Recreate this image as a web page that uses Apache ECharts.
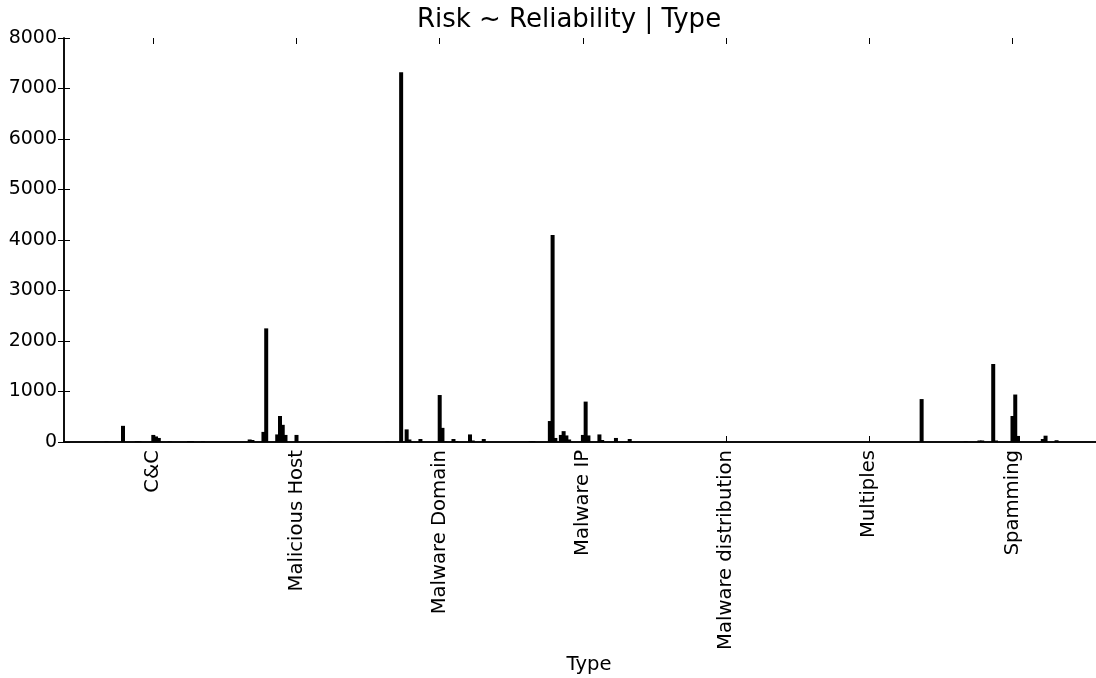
<!DOCTYPE html>
<html>
<head>
<meta charset="utf-8">
<title>Risk ~ Reliability | Type</title>
<script src="https://cdn.jsdelivr.net/npm/echarts@6/dist/echarts.min.js"></script>
<style>
  html, body { margin: 0; padding: 0; background: #fff; }
  #chart { width: 1096px; height: 678px; }
</style>
</head>
<body>
<div id="chart"></div>
<script>
// Threat types on the x axis
const types = ['C&C', 'Malicious Host', 'Malware Domain', 'Malware IP',
               'Malware distribution', 'Multiples', 'Spamming'];

// Y axis ticks
const yTicks = [0, 1000, 2000, 3000, 4000, 5000, 6000, 7000, 8000];

// Counts for each Risk/Reliability combination (39 combinations), one list per type
const ccCounts        = [0, 0, 8, 0, 0, 0, 0, 0, 320, 0, 0, 0, 0, 15, 15, 0, 0, 0, 0, 140, 110, 80, 0, 0, 0, 10, 0, 0, 0, 0, 0, 0, 20, 20, 0, 0, 0, 10, 0];
const hostCounts      = [0, 0, 50, 40, 0, 0, 0, 200, 2250, 0, 0, 0, 150, 515, 340, 140, 0, 0, 0, 140, 0, 0, 0, 0, 0, 0, 0, 0, 0, 0, 0, 5, 0, 0, 0, 0, 0, 0, 0];
const domainCounts    = [10, 0, 0, 0, 0, 7320, 0, 250, 50, 0, 0, 0, 60, 0, 0, 0, 0, 0, 0, 930, 280, 10, 0, 0, 60, 20, 0, 0, 0, 0, 150, 30, 0, 0, 0, 60, 0, 0, 0];
const ipCounts        = [15, 15, 0, 0, 0, 0, 0, 415, 4100, 80, 0, 140, 215, 130, 50, 0, 0, 0, 0, 140, 800, 130, 0, 0, 0, 150, 40, 0, 0, 0, 0, 80, 0, 0, 0, 0, 60, 0, 0];
const distCounts      = [0, 0, 0, 0, 0, 0, 0, 0, 0, 0, 0, 0, 0, 0, 0, 0, 0, 0, 0, 0, 0, 0, 0, 0, 0, 0, 0, 0, 0, 0, 0, 0, 0, 0, 0, 0, 0, 0, 0];
const multiplesCounts = [0, 0, 0, 0, 0, 0, 0, 0, 0, 0, 0, 0, 0, 0, 0, 0, 0, 0, 0, 0, 0, 0, 0, 0, 0, 0, 0, 0, 0, 0, 0, 0, 0, 0, 0, 0, 0, 0, 850];
const spamCounts      = [0, 0, 10, 0, 0, 0, 0, 30, 30, 0, 0, 0, 1545, 30, 0, 0, 0, 0, 0, 515, 940, 120, 0, 0, 0, 0, 0, 0, 0, 0, 60, 125, 0, 0, 0, 35, 0, 0, 0];

const countsByType = [ccCounts, hostCounts, domainCounts, ipCounts,
                      distCounts, multiplesCounts, spamCounts];

const FONT = 'DejaVu Sans';
const chart = echarts.init(document.getElementById('chart'), null, { renderer: 'canvas' });

// Bars are drawn a little wider than their slot (outlined look), so neighbours overlap.
const BAR_W = 4;
const SLOT_W = 2.754;
const BAR_GAP = ((SLOT_W / BAR_W - 1) * 100).toFixed(2) + '%';

// One bar series per Risk/Reliability combination, grouped by type
const nCombos = ccCounts.length;
const barSeries = [];
for (let i = 0; i < nCombos; i++) {
  barSeries.push({
    name: 'combo ' + (i + 1),
    type: 'bar',
    xAxisIndex: 2,
    yAxisIndex: 2,
    barWidth: BAR_W,
    barGap: BAR_GAP,
    data: countsByType.map(arr => arr[i]),
    itemStyle: { color: '#000' },
    silent: true
  });
}

const frameLine = { show: true, lineStyle: { color: '#000', width: 1.5 } };
const tickStyle = { show: true, inside: true, length: 6, lineStyle: { color: '#000', width: 1 } };

const option = {
  animation: false,
  backgroundColor: '#fff',
  grid: [
    { left: 64, right: -1, top: 38, bottom: 236 },
    { left: 81.7, right: 11.9, top: 38, bottom: 236 }
  ],
  xAxis: [
    { gridIndex: 0, type: 'value', min: 0, max: 1, axisLine: frameLine,
      axisTick: { show: false }, axisLabel: { show: false }, splitLine: { show: false } },
    { gridIndex: 0, type: 'value', position: 'top', min: 0, max: 1, axisLine: frameLine,
      axisTick: { show: false }, axisLabel: { show: false }, splitLine: { show: false } },
    { gridIndex: 1, type: 'category', data: types,
      axisLine: { show: false },
      axisTick: Object.assign({ alignWithLabel: true }, tickStyle),
      axisLabel: { rotate: 90, fontFamily: FONT, fontSize: 19.6, color: '#000', margin: 8, interval: 0 },
      splitLine: { show: false } },
    { gridIndex: 1, type: 'category', position: 'top', data: types,
      axisLine: { show: false },
      axisTick: Object.assign({ alignWithLabel: true }, tickStyle),
      axisLabel: { show: false }, splitLine: { show: false } }
  ],
  yAxis: [
    { gridIndex: 0, type: 'value', min: yTicks[0], max: yTicks[yTicks.length - 1],
      interval: yTicks[1] - yTicks[0],
      axisLine: frameLine, axisTick: tickStyle,
      axisLabel: { fontFamily: FONT, fontSize: 19, color: '#000', margin: 7,
                   formatter: v => String(v) },
      splitLine: { show: false } },
    { gridIndex: 0, type: 'value', position: 'right', min: yTicks[0], max: yTicks[yTicks.length - 1],
      interval: yTicks[1] - yTicks[0],
      axisLine: frameLine, axisTick: tickStyle,
      axisLabel: { show: false }, splitLine: { show: false } },
    { gridIndex: 1, type: 'value', min: yTicks[0], max: yTicks[yTicks.length - 1], show: false }
  ],
  graphic: [
    { type: 'text', x: 569, y: 7,
      style: { text: 'Risk ~ Reliability | Type', fontFamily: FONT, fontSize: 26, fill: '#000',
               textAlign: 'center', textVerticalAlign: 'top' } },
    { type: 'text', x: 589, y: 655,
      style: { text: 'Type', fontFamily: FONT, fontSize: 19.6, fill: '#000',
               textAlign: 'center', textVerticalAlign: 'top' } }
  ],
  series: barSeries
};

chart.setOption(option);
</script>
</body>
</html>
